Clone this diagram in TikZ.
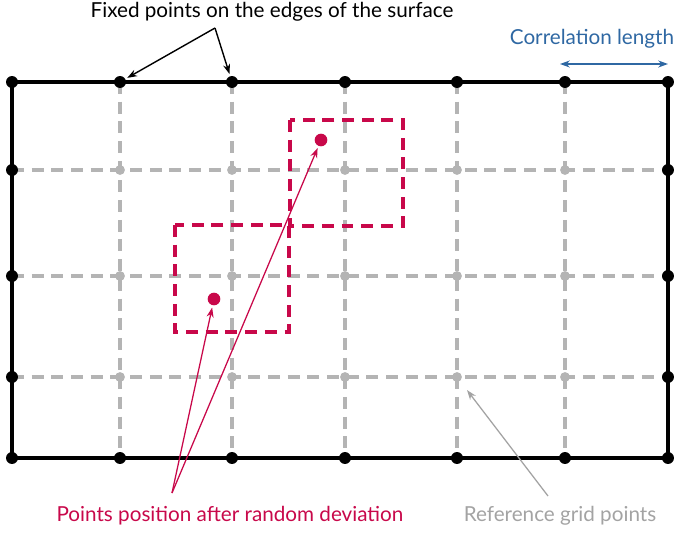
\documentclass[tikz,border=0pt]{standalone}
\usepackage{fontspec}
\setmainfont{Lato}
\usetikzlibrary{arrows.meta}
\definecolor{devred}{HTML}{C8084A}
\definecolor{corrblue}{HTML}{2F68A3}
\definecolor{refgray}{HTML}{B4B4B4}
\definecolor{labelgray}{HTML}{A3A3A3}

\begin{document}
\begin{tikzpicture}[x=0.025cm,y=-0.025cm,
    font=\fontsize{14.7}{17}\selectfont,
    fixdot/.style={circle,fill=black,inner sep=0pt,minimum size=8.5pt},
    refdot/.style={circle,fill=refgray,inner sep=0pt,minimum size=7pt},
    devdot/.style={circle,fill=devred,inner sep=0pt,minimum size=9pt},
    griddash/.style={refgray,line width=2.3pt,dash pattern=on 8.5pt off 5.5pt},
    devbox/.style={devred,line width=2.3pt,dash pattern=on 8.5pt off 5.5pt},
    edge/.style={black,line width=2.4pt},
    pointer/.style={-{Stealth[length=7pt,width=5pt]},shorten >=1.5pt}]
  \useasboundingbox (0,0) rectangle (676,533);
  % grid coordinates
  \foreach \x [count=\i] in {12,120,232,345,457,565,668}
    \foreach \y [count=\j] in {82,170,276,377,458}
      \coordinate (p-\i-\j) at (\x,\y);
  % reference grid
  \foreach \i in {2,...,6}
    \draw[griddash] (p-\i-1) -- (p-\i-5);
  \foreach \j in {2,3,4}
    \draw[griddash] (p-1-\j) -- (p-7-\j);
  \draw[edge] (p-1-1) rectangle (p-7-5);
  % points
  \foreach \i in {1,...,7}
    \foreach \j in {1,...,5} {
      \pgfmathtruncatemacro{\inner}{(\i>1)*(\i<7)*(\j>1)*(\j<5)}
      \ifnum\inner=1
        \node[refdot] (d-\i-\j) at (p-\i-\j) {};
      \else
        \node[fixdot] (d-\i-\j) at (p-\i-\j) {};
      \fi
    }
  % deviated points
  \draw[devbox] (175,225) rectangle (289,332);
  \draw[devbox] (290,120) rectangle (403,226);
  \node[devdot] (dev-a) at (214,299) {};
  \node[devdot] (dev-b) at (321,140) {};
  % labels
  \node (fixlabel) at (272,12) {Fixed points on the edges of the surface};
  \coordinate (fixfoot) at (215,28);
  \draw[pointer,line width=1pt] (fixfoot) -- (d-2-1);
  \draw[pointer,line width=1pt] (fixfoot) -- (d-3-1);
  \node[text=corrblue] (corrlabel) at (592,39) {Correlation length};
  \coordinate (corr-l) at (560,64);
  \coordinate (corr-r) at (668,64);
  \draw[corrblue,line width=1pt,{Stealth[length=7pt,width=5pt]}-{Stealth[length=7pt,width=5pt]}] (corr-l) -- (corr-r);
  \node[text=devred] (devlabel) at (230,516) {Points position after random deviation};
  \coordinate (devfoot) at (172,493);
  \draw[pointer,devred,line width=0.9pt] (devfoot) -- (dev-a);
  \draw[pointer,devred,line width=0.9pt] (devfoot) -- (dev-b);
  \node[text=labelgray] (reflabel) at (560,516) {Reference grid points};
  \coordinate (reffoot) at (548,496);
  \draw[pointer,labelgray,line width=0.9pt,shorten >=8pt] (reffoot) -- (d-5-4);
\end{tikzpicture}
\end{document}
